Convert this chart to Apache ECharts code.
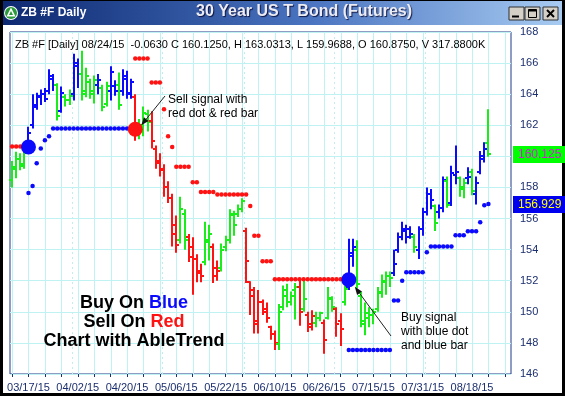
<!DOCTYPE html>
<html><head><meta charset="utf-8">
<script src="https://cdn.jsdelivr.net/npm/echarts@6/dist/echarts.min.js"></script>
<style>html,body{margin:0;padding:0;background:#fff;overflow:hidden}#c{width:565px;height:396px}</style>
</head><body><div id="c"></div>
<script>
const dates = ["03/11/15","03/12/15","03/13/15","03/16/15","03/17/15","03/18/15","03/19/15","03/20/15","03/23/15","03/24/15",
"03/25/15","03/26/15","03/27/15","03/30/15","03/31/15","04/01/15","04/02/15","04/03/15","04/06/15","04/07/15",
"04/08/15","04/09/15","04/10/15","04/13/15","04/14/15","04/15/15","04/16/15","04/17/15","04/20/15","04/21/15",
"04/22/15","04/23/15","04/24/15","04/27/15","04/28/15","04/29/15","04/30/15","05/01/15","05/04/15","05/05/15",
"05/06/15","05/07/15","05/08/15","05/11/15","05/12/15","05/13/15","05/14/15","05/15/15","05/18/15","05/19/15",
"05/20/15","05/21/15","05/22/15","05/26/15","05/27/15","05/28/15","05/29/15","06/01/15","06/02/15","06/03/15",
"06/04/15","06/05/15","06/08/15","06/09/15","06/10/15","06/11/15","06/12/15","06/15/15","06/16/15","06/17/15",
"06/18/15","06/19/15","06/22/15","06/23/15","06/24/15","06/25/15","06/26/15","06/29/15","06/30/15","07/01/15",
"07/02/15","07/06/15","07/07/15","07/08/15","07/09/15","07/10/15","07/13/15","07/14/15","07/15/15","07/16/15",
"07/17/15","07/20/15","07/21/15","07/22/15","07/23/15","07/24/15","07/27/15","07/28/15","07/29/15","07/30/15",
"07/31/15","08/03/15","08/04/15","08/05/15","08/06/15","08/07/15","08/10/15","08/11/15","08/12/15","08/13/15",
"08/14/15","08/17/15","08/18/15","08/19/15","08/20/15","08/21/15","08/24/15"];
const padCategories = ["","","","",""];
const monthStarts = ["04/01/15","05/01/15","06/01/15","07/01/15","08/03/15"];

const opens = [158.5,159.2,159.8,159.5,160.6,162.0,163.3,163.9,164.0,164.2,
165.0,164.6,162.9,163.8,163.6,164.0,165.8,165.3,164.2,164.8,
164.2,164.6,164.4,163.4,164.2,164.5,164.6,164.2,165.0,164.0,
163.8,161.5,161.8,162.7,162.3,160.5,159.7,159.2,158.0,157.3,
155.6,154.6,156.3,154.8,154.2,153.4,152.6,153.2,154.5,154.2,
152.8,152.8,154.2,154.6,156.3,156.3,156.6,155.2,151.9,151.0,
149.2,150.6,150.0,149.0,148.6,147.9,150.3,151.0,150.6,151.4,
151.6,150.2,149.8,149.2,149.3,149.6,149.3,149.6,150.8,150.2,
149.4,150.6,151.6,153.6,154.0,151.0,149.2,149.6,149.8,150.2,
151.3,151.9,152.3,152.5,154.0,154.8,155.2,155.3,154.8,154.0,
155.3,156.4,157.6,156.8,156.4,156.7,158.4,157.0,158.8,158.6,
157.9,158.6,159.0,157.6,159.0,159.8,160.875];
const highs = [159.7,160.3,160.2,160.5,161.9,164.0,164.1,164.3,164.4,165.6,
165.3,164.7,164.5,164.0,164.3,166.6,166.3,166.8,165.7,165.0,
165.2,165.3,164.6,164.8,165.8,164.9,165.4,165.6,165.5,165.0,
164.0,162.4,163.2,163.0,162.9,160.7,160.2,159.5,158.4,157.6,
156.2,157.4,156.6,155.0,154.8,153.7,153.1,155.8,155.6,154.4,
153.3,154.4,154.9,156.6,156.5,156.9,157.3,155.4,151.96,151.6,
151.4,150.8,150.6,149.1,148.8,150.5,151.7,151.8,151.3,151.85,
152.0,152.0,150.0,150.1,150.0,150.0,149.5,151.6,151.0,150.3,
149.9,151.7,154.7,154.7,154.6,151.3,150.6,150.3,150.2,151.6,
152.4,152.6,152.6,154.0,155.1,155.8,155.6,155.5,155.0,155.5,
156.7,158.0,157.9,156.9,156.9,158.7,158.7,159.4,160.7,158.7,
158.6,159.3,159.2,158.7,160.35,160.9,163.0313];
const lows = [158.0,158.6,159.1,159.2,160.4,161.8,163.0,163.3,163.5,164.0,
164.2,162.3,162.8,163.2,163.3,163.6,164.4,163.6,163.8,163.7,
163.4,164.0,162.9,163.2,163.6,163.9,163.0,163.9,163.7,163.7,
161.0,161.1,161.3,161.6,160.5,159.2,158.7,157.4,157.0,154.2,
153.8,154.4,154.0,153.2,151.1,151.9,151.9,153.0,153.3,151.85,
152.0,152.6,153.9,154.4,154.9,156.1,156.4,151.85,149.8,148.6,
148.6,149.8,149.3,148.2,147.55,147.55,150.1,150.3,150.4,149.5,
149.1,150.0,148.7,148.8,149.0,149.4,147.3,149.5,150.0,148.4,
147.8,150.4,151.4,152.9,151.5,149.0,148.5,149.0,149.2,150.0,
150.9,151.1,151.6,152.3,153.8,154.6,154.4,154.7,153.8,153.4,
154.9,156.2,156.6,155.2,156.0,156.4,156.7,156.8,158.2,157.4,
157.3,158.2,157.5,156.9,158.85,159.6,159.9688];
const closes = [159.3,159.8,159.4,160.2,161.5,163.2,163.8,164.0,163.7,165.2,
164.6,162.6,164.1,163.6,163.9,166.0,165.3,164.0,165.2,164.0,
164.9,164.9,163.2,164.5,165.4,164.2,163.3,165.2,164.1,164.8,
161.6,162.0,162.8,162.2,161.0,159.6,159.1,158.0,157.3,155.0,
154.3,156.6,154.6,153.5,153.4,152.5,152.3,154.6,155.0,152.3,
152.6,154.0,154.6,156.2,155.6,156.6,157.1,153.3,151.4,149.4,
150.6,150.2,149.6,148.6,148.0,150.0,151.4,150.6,151.0,151.6,
150.0,150.8,149.0,149.7,149.6,149.9,148.2,150.9,150.3,149.2,
148.9,151.5,153.8,154.2,151.8,149.4,149.9,149.8,150.0,151.2,
152.0,152.3,152.2,153.1,154.8,155.3,154.8,155.0,154.2,155.3,
156.4,157.6,157.2,155.7,156.7,158.5,156.9,158.9,159.0,158.0,
158.3,158.7,157.8,158.3,160.0,160.5,160.125];
const barColors = ("gggg"+"bbbbbbb"+"g"+"b"+"gg"+"bb"+"gggg"+"b"+"gg"+"bb"+"g"+"bbb"+
"r"+"ggg"+"rrrrrrr"+"gg"+"rrrr"+"gg"+"rr"+"gggggg"+
"rrrrrrrr"+"ggggg"+"r"+"g"+"rr"+"gg"+"r"+"gg"+"rr"+"g"+
"bb"+"ggggggggg"+"bbbbb"+"g"+"bbbb"+"g"+"bb"+"g"+"bb"+"gg"+"b"+"g"+"bbb"+"g").split("");

const redStops = [160.63,160.63,160.63,null,null,null,null,null,null,null,
null,null,null,null,null,null,null,null,null,null,
null,null,null,null,null,null,null,null,null,null,
166.3,166.3,166.3,166.3,164.75,164.75,164.75,163.03,161.3,160.6,
159.33,159.33,159.33,159.33,158.34,158.34,157.7,157.7,157.7,157.7,
157.55,157.55,157.55,157.55,157.55,157.55,157.55,157.55,156.8,154.9,
154.9,153.25,153.25,153.25,152.1,152.1,152.1,152.1,152.1,152.1,
152.1,152.1,152.1,152.1,152.1,152.1,152.1,152.1,152.1,152.1,
152.1,152.1,null,null,null,null,null,null,null,null,
null,null,null,null,null,null,null,null,null,null,
null,null,null,null,null,null,null,null,null,null,
null,null,null,null,null,null,null];
const blueStops = [null,null,null,null,157.65,158.1,159.55,160.5,161.03,161.3,
161.79,161.79,161.79,161.79,161.79,161.79,161.79,161.79,161.79,161.79,
161.79,161.79,161.79,161.79,161.79,161.79,161.79,161.79,161.79,161.79,
null,null,null,null,null,null,null,null,null,null,
null,null,null,null,null,null,null,null,null,null,
null,null,null,null,null,null,null,null,null,null,
null,null,null,null,null,null,null,null,null,null,
null,null,null,null,null,null,null,null,null,null,
null,null,147.55,147.55,147.55,147.55,147.55,147.55,147.55,147.55,
147.55,147.55,147.55,150.73,150.73,152.0,152.55,152.55,152.55,152.55,
152.55,153.83,154.2,154.2,154.2,154.2,154.2,154.2,154.92,154.92,
154.92,155.18,155.18,155.18,155.76,156.85,156.929];

const buySignals = [["03/17/15",160.6],["07/07/15",152.06]];
const sellSignals = [["04/22/15",161.74]];
const lastStopLabel = 156.929;
const headerText = "ZB #F [Daily] 08/24/15  -0.0630 C 160.1250, H 163.0313, L 159.9688, O 160.8750, V 317.8800K";
const yMin = 146, yMax = 168, yStep = 2;

const colorMap = {b:"#0a0aff", g:"#1aee1a", r:"#ff1212"};
const gridCol = "#bff3f3";
const navy = "#1c2f6e";
const FONT = '"Liberation Sans", Arial, sans-serif';

const chart = echarts.init(document.getElementById("c"), null, {renderer:"canvas"});
const cats = dates.concat(padCategories);
const ohlc = dates.map((d,i)=>[i, opens[i], highs[i], lows[i], closes[i]]);
const vIdx = []; for (let i=0;i<cats.length;i+=4) vIdx.push([i, yMin]);
const mIdx = monthStarts.map(d=>[dates.indexOf(d), yMin]);
const bluePts = blueStops.map((v,i)=>[i,v]).filter(p=>p[1]!=null);
const redPts = redStops.map((v,i)=>[i,v]).filter(p=>p[1]!=null);
const buyPts = buySignals.map(s=>[dates.indexOf(s[0]), s[1]]);
const sellPts = sellSignals.map(s=>[dates.indexOf(s[0]), s[1]]);

const option = {
  animation:false,
  backgroundColor:"#ffffff",
  textStyle:{fontFamily:FONT},
  grid:{left:10, right:54, top:32, bottom:22, show:true, borderColor:"#1f3a8a", borderWidth:1, backgroundColor:"#ffffff"},
  xAxis:{type:"category", data:cats, boundaryGap:true,
    axisLine:{show:false},
    axisTick:{show:true, alignWithLabel:true, length:3, interval:(i)=>i%4===0, lineStyle:{color:navy}},
    axisLabel:{color:navy, fontSize:11, margin:8, interval:(i)=> i>=4 && (i-4)%12===0, fontFamily:FONT},
    splitLine:{show:false}},
  yAxis:{type:"value", position:"right", min:yMin, max:yMax, interval:yStep,
    axisLine:{show:false}, axisTick:{show:false},
    axisLabel:{color:navy, fontSize:11, margin:9, fontFamily:FONT},
    splitLine:{show:true, lineStyle:{color:gridCol, width:1}}},
  series:[
    {type:"custom", name:"vgrid", silent:true, z:1, data:vIdx, encode:{x:0,y:1},
     renderItem:(p,api)=>{const i=api.value(0); const t=api.coord([i,yMax]), b=api.coord([i,yMin]);
       const x=Math.round(t[0])+0.5;
       return {type:"line", shape:{x1:x,y1:t[1],x2:x,y2:b[1]}, style:{stroke:gridCol,lineWidth:1}};}},
    {type:"custom", name:"months", silent:true, z:1, data:mIdx, encode:{x:0,y:1},
     renderItem:(p,api)=>{const i=api.value(0); const t=api.coord([i,yMax]), b=api.coord([i,yMin]);
       const w=api.size([1,0])[0]; const x=Math.round(t[0]-w/2)+0.5;
       return {type:"line", shape:{x1:x,y1:t[1],x2:x,y2:b[1]}, style:{stroke:"#c4eeee",lineWidth:1,lineDash:[2,3]}};}},
    {type:"custom", name:"bars", z:2, data:ohlc, encode:{x:0,y:[1,2,3,4]},
     renderItem:(p,api)=>{const i=api.value(0);
       const pO=api.coord([i,api.value(1)]), pH=api.coord([i,api.value(2)]), pL=api.coord([i,api.value(3)]), pC=api.coord([i,api.value(4)]);
       const col=colorMap[barColors[p.dataIndex]]; const x=Math.round(pH[0]);
       return {type:"group", children:[
         {type:"line", shape:{x1:x,y1:pH[1],x2:x,y2:pL[1]}, style:{stroke:col,lineWidth:2}},
         {type:"line", shape:{x1:x-3,y1:Math.round(pO[1]),x2:x,y2:Math.round(pO[1])}, style:{stroke:col,lineWidth:2}},
         {type:"line", shape:{x1:x,y1:Math.round(pC[1]),x2:x+3,y2:Math.round(pC[1])}, style:{stroke:col,lineWidth:2}}]};}},
    {type:"scatter", name:"blueStop", z:3, symbol:"circle", symbolSize:4.5, data:bluePts, itemStyle:{color:"#0a0aff",opacity:1}, silent:true},
    {type:"scatter", name:"redStop", z:3, symbol:"circle", symbolSize:4.5, data:redPts, itemStyle:{color:"#ff1212",opacity:1}, silent:true},
    {type:"scatter", name:"buy", z:4, symbol:"circle", symbolSize:15, data:buyPts, itemStyle:{color:"#0a0aff",opacity:1}, silent:true},
    {type:"scatter", name:"sell", z:4, symbol:"circle", symbolSize:15, data:sellPts, itemStyle:{color:"#ff1212",opacity:1}, silent:true},
    {type:"custom", name:"tags", z:6, clip:false, silent:true,
     data:[[dates.length-1, closes[closes.length-1], 0],[dates.length-1, lastStopLabel, 1]], encode:{x:0,y:1},
     renderItem:(p,api)=>{const v=api.value(1); const y=api.coord([api.value(0),v])[1];
       const right=p.coordSys.x+p.coordSys.width; const k=api.value(2);
       const bg=k===0?"#00ff00":"#0000ee", fg=k===0?"#d020d8":"#ffff00";
       const txt=k===0?closes[closes.length-1].toFixed(3):lastStopLabel.toFixed(3);
       return {type:"group", children:[
         {type:"rect", shape:{x:right+2,y:Math.round(y-8.5),width:60,height:17}, style:{fill:bg}},
         {type:"text", style:{x:right+7,y:y+0.5,text:txt,fill:fg,font:"12px "+FONT,verticalAlign:"middle",textVerticalAlign:"middle"}}]};}}
  ]
};
chart.setOption(option);

function arrow(x1,y1,x2,y2){
  const a=Math.atan2(y2-y1,x2-x1), L=8, W=3;
  const bx=x2-L*Math.cos(a), by=y2-L*Math.sin(a);
  const px=-Math.sin(a)*W, py=Math.cos(a)*W;
  return [
    {type:"line", z:20, shape:{x1:x1,y1:y1,x2:bx,y2:by}, style:{stroke:"#222",lineWidth:1}},
    {type:"polygon", z:20, shape:{points:[[x2,y2],[bx+px,by+py],[bx-px,by-py]]}, style:{fill:"#111"}}];
}
const sellPx = chart.convertToPixel({gridIndex:0}, sellPts[0]);
const buyPx = chart.convertToPixel({gridIndex:0}, buyPts[1]);

const T = (x,y,text,font,fill,align)=>({type:"text", z:20, style:{x:x,y:y,text:text,font:font,fill:fill,align:align||"left",textAlign:align||"left",verticalAlign:"middle",textVerticalAlign:"middle"}});
const bigFont = "bold 18px "+FONT;
const bigLine = (y, a, b, col)=>({type:"text", z:20, style:{x:134,y:y,text:"{k|"+a+"}{c|"+b+"}",
  align:"center", textAlign:"center", verticalAlign:"middle", textVerticalAlign:"middle",
  rich:{k:{font:bigFont, fill:"#000", fontSize:18, fontWeight:"bold", fontFamily:FONT, color:"#000"},
        c:{font:bigFont, fill:col, fontSize:18, fontWeight:"bold", fontFamily:FONT, color:col}}}});

const elements = [
  {type:"rect", z:0, shape:{x:0,y:0,width:565,height:25}, style:{fill:new echarts.graphic.LinearGradient(0,0,1,0,[{offset:0,color:"#0c2870"},{offset:0.55,color:"#4a74c0"},{offset:1,color:"#a8ccf2"}])}},
  {type:"rect", z:0, shape:{x:0,y:0,width:3,height:396}, style:{fill:"#000"}},
  {type:"rect", z:0, shape:{x:562,y:0,width:3,height:396}, style:{fill:"#000"}},
  {type:"rect", z:0, shape:{x:0,y:393,width:565,height:3}, style:{fill:"#000"}},
  {type:"rect", z:0, shape:{x:0,y:0,width:565,height:1}, style:{fill:"#000"}},
  {type:"circle", z:1, shape:{cx:11,cy:13,r:7}, style:{fill:"#ffffff"}},
  {type:"circle", z:1, shape:{cx:11,cy:13,r:6}, style:{fill:"#2a9a3a"}},
  {type:"polygon", z:2, shape:{points:[[11,7.5],[15.5,16.5],[6.5,16.5]]}, style:{fill:"#ffffff"}},
  {type:"polygon", z:3, shape:{points:[[11,11],[13,15],[9,15]]}, style:{fill:"#2a9a3a"}},
  T(21,13,"ZB #F Daily","bold 12px "+FONT,"#ffffff"),
  {type:"text", z:2, style:{x:304,y:12,text:"30 Year US T Bond (Futures)",font:"bold 16px "+FONT,fill:"#ececf2",align:"center",textAlign:"center",verticalAlign:"middle",textVerticalAlign:"middle",textShadowColor:"rgba(0,0,40,0.8)",textShadowOffsetX:1,textShadowOffsetY:1,textShadowBlur:1}},
  {type:"rect", z:2, shape:{x:509,y:7,width:15,height:13}, style:{fill:"#d4d0c8",stroke:"#303030",lineWidth:1}},
  {type:"rect", z:2, shape:{x:525,y:7,width:15,height:13}, style:{fill:"#d4d0c8",stroke:"#303030",lineWidth:1}},
  {type:"rect", z:2, shape:{x:543,y:7,width:15,height:13}, style:{fill:"#d4d0c8",stroke:"#303030",lineWidth:1}},
  {type:"line", z:3, shape:{x1:512,y1:16.5,x2:519,y2:16.5}, style:{stroke:"#000",lineWidth:2}},
  {type:"rect", z:3, shape:{x:528.5,y:9.5,width:8,height:8}, style:{fill:"none",stroke:"#000",lineWidth:1}},
  {type:"line", z:3, shape:{x1:528.5,y1:10.5,x2:536.5,y2:10.5}, style:{stroke:"#000",lineWidth:2}},
  {type:"line", z:3, shape:{x1:547,y1:10,x2:554,y2:17}, style:{stroke:"#000",lineWidth:2}},
  {type:"line", z:3, shape:{x1:554,y1:10,x2:547,y2:17}, style:{stroke:"#000",lineWidth:2}},
  T(15,45,headerText,"11px "+FONT,"#000"),
  T(168,100,"Sell signal with","12px "+FONT,"#000"),
  T(168,114,"red dot & red bar","12px "+FONT,"#000"),
  T(401,318,"Buy signal","12px "+FONT,"#000"),
  T(401,332,"with blue dot","12px "+FONT,"#000"),
  T(401,346,"and blue bar","12px "+FONT,"#000"),
  bigLine(303,"Buy On ","Blue","#0a0aff"),
  bigLine(322,"Sell On ","Red","#ff1212"),
  bigLine(341,"Chart with AbleTrend","","#000")
].concat(arrow(165,96,sellPx[0]+6,sellPx[1]-4)).concat(arrow(391,336,buyPx[0]+6,buyPx[1]+7));
chart.setOption({graphic:{elements:elements}});
</script></body></html>
